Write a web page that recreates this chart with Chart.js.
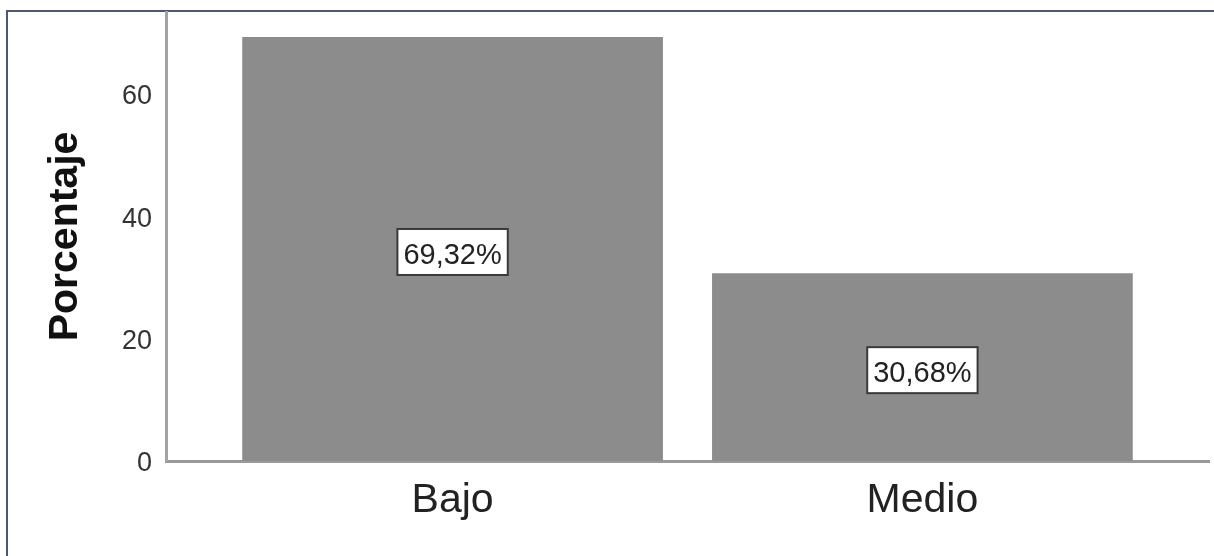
<!DOCTYPE html>
<html><head><meta charset="utf-8">
<script src="https://cdn.jsdelivr.net/npm/chart.js@4/dist/chart.umd.min.js"></script>
<style>html,body{margin:0;padding:0;background:#fff;overflow:hidden}
#wrap{position:relative;width:1214px;height:556px}</style>
</head><body><div id="wrap"><canvas id="c" width="1214" height="556"></canvas></div>
<script>
const categories = ['Bajo', 'Medio'];
const percentages = [69.32, 30.68];
const yTicks = [0, 20, 40, 60];
const yTitle = 'Porcentaje';

const FONT = "'Liberation Sans', Arial, Helvetica, sans-serif";

const frame = {
  id: 'frame',
  beforeDraw(chart) {
    const ctx = chart.ctx;
    ctx.save();
    ctx.fillStyle = '#fff';
    ctx.fillRect(0, 0, chart.width, chart.height);
    ctx.fillStyle = '#4b5870';
    ctx.fillRect(6, 10, chart.width - 6, 2);
    ctx.fillRect(6, 10, 2, chart.height - 10);
    ctx.restore();
  }
};

const boxLabels = {
  id: 'boxLabels',
  afterDatasetsDraw(chart) {
    const ctx = chart.ctx;
    const meta = chart.getDatasetMeta(0);
    ctx.save();
    ctx.font = '29px ' + FONT;
    ctx.textAlign = 'center';
    ctx.textBaseline = 'middle';
    meta.data.forEach((bar, i) => {
      const txt = percentages[i].toFixed(2).replace('.', ',') + '%';
      const w = ctx.measureText(txt).width + 12;
      const h = 46;
      const cx = bar.x;
      const cy = (bar.y + bar.base) / 2 + 3;
      ctx.fillStyle = '#fff';
      ctx.fillRect(cx - w / 2, cy - h / 2, w, h);
      ctx.strokeStyle = '#3a3a3a';
      ctx.lineWidth = 2;
      ctx.strokeRect(cx - w / 2, cy - h / 2, w, h);
      ctx.fillStyle = '#222';
      ctx.fillText(txt, cx, cy + 4);
    });
    ctx.restore();
  }
};

new Chart(document.getElementById('c'), {
  type: 'bar',
  data: {
    datasets: [{
      data: percentages.map((v, i) => ({ x: i, y: v })),
      backgroundColor: '#8c8c8c',
      borderWidth: 0,
      categoryPercentage: 1,
      barPercentage: 0.8955
    }]
  },
  options: {
    responsive: false,
    animation: false,
    layout: { padding: { left: 0, top: 12, right: 5, bottom: 0 } },
    plugins: { legend: { display: false }, tooltip: { enabled: false } },
    scales: {
      x: {
        type: 'linear',
        offset: false,
        min: -0.61,
        max: 1.61,
        grid: { display: false, drawTicks: false, offset: false },
        border: { display: true, color: '#999', width: 3 },
        afterBuildTicks: s => { s.ticks = categories.map((c, i) => ({ value: i })); },
        afterFit: s => { s.height = 95; s.paddingLeft = 0; s.paddingRight = 0; },
        ticks: {
          autoSkip: false, maxRotation: 0, padding: 15,
          color: '#222',
          font: { family: FONT, size: 41 },
          callback: v => categories[v]
        }
      },
      y: {
        min: 0,
        max: 73.4,
        grid: { display: false, drawTicks: false },
        border: { display: true, color: '#a3a3a3', width: 3 },
        afterBuildTicks: s => { s.ticks = yTicks.map(v => ({ value: v })); },
        afterFit: s => { s.width = 166; s.paddingTop = 0; s.paddingBottom = 0; },
        ticks: {
          padding: 14, labelOffset: 3,
          color: '#333',
          font: { family: FONT, size: 27 }
        },
        title: {
          display: true, text: yTitle, color: '#111',
          font: { family: FONT, size: 41, weight: 'bold' },
          padding: { top: 41, bottom: 0 }
        }
      }
    }
  },
  plugins: [frame, boxLabels]
});
</script></body></html>
